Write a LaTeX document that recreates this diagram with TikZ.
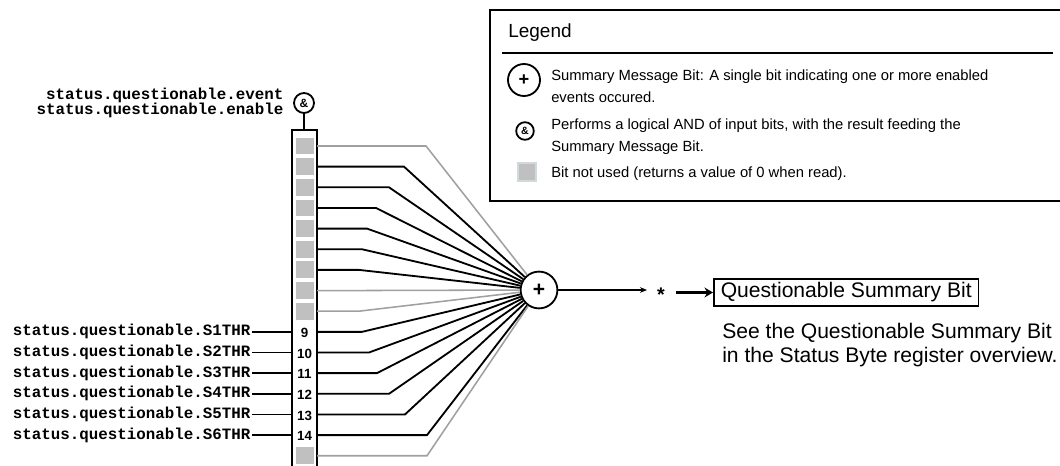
\documentclass[tikz,border=0pt]{standalone}
\usepackage{fontspec}
\setmainfont{Liberation Sans}
\setmonofont{Liberation Mono}
\usepackage{xcolor}
\usetikzlibrary{arrows.meta, positioning}

\definecolor{bitgray}{HTML}{C0C0C0}
\definecolor{wiregray}{HTML}{A0A0A0}
\definecolor{bitedge}{HTML}{D0DADC}

\begin{document}
\begin{tikzpicture}[
        x=0.025cm, y=-0.025cm,
        wire/.style={line width=1.3pt},
        graywire/.style={line width=1.1pt, draw=wiregray},
        cell/.style={fill=bitgray, minimum width=0.45cm, minimum height=0.42cm, inner sep=0},
        bitnum/.style={font=\bfseries\fontsize{9.5}{10}\selectfont, inner sep=0},
        reglabel/.style={font=\ttfamily\bfseries\fontsize{11.25}{10.6}\selectfont, inner sep=1pt},
        orgate/.style={circle, draw, line width=1.3pt, fill=white, inner sep=0, font=\bfseries\fontsize{15}{15}\selectfont},
        andgate/.style={circle, draw, line width=1.3pt, fill=white, inner sep=0, font=\bfseries\fontsize{8.5}{8.5}\selectfont},
        legtext/.style={font=\fontsize{10.5}{15.5}\selectfont, align=left, anchor=north west, inner sep=0}
    ]
    \useasboundingbox (0,0) rectangle (1060,466);
    \clip (0,0) rectangle (1060,466);

    % register
    \draw[line width=1.3pt] (292,130) rectangle (317,480);
    \foreach \k in {0,1,2,3,4,5,6,7,8,15}
        \node[cell] (c\k) at (304.5,146+20.65*\k) {};
    \foreach \k in {9,...,14}
        \node[bitnum] (c\k) at (304.5,147+20.65*\k) {\k};

    \node[andgate, minimum size=0.5cm] (amp) at (304,103) {\&};
    \node[reglabel, align=right, left=0.2cm of amp] (enlbl) {status.questionable.event\\status.questionable.enable};
    \coordinate (regtop) at (304,130);
    \draw[wire] (amp) -- (regtop);

    % summary bit
    \node[orgate, minimum size=0.92cm] (sum) at (539,290) {+};
    \foreach \k/\bx/\ws in {0/426/graywire, 1/404/wire, 2/389/wire, 3/376/wire,
            4/367/wire, 5/362/wire, 6/359/wire, 7/357/graywire, 8/359/graywire,
            9/362/wire, 10/369/wire, 11/377/wire, 12/389/wire, 13/405/wire,
            14/427/wire, 15/427/graywire} {
        \coordinate (w\k) at (317,146+20.65*\k);
        \coordinate (b\k) at (\bx,146+20.65*\k);
        \draw[\ws] (w\k) -- (b\k) -- (sum);
    }

    % inputs
    \foreach \k/\n in {9/1,10/2,11/3,12/4,13/5,14/6} {
        \node[reglabel, anchor=east] (lbl\k) at (252,146+20.65*\k) {status.questionable.S\n THR};
        \coordinate (in\k) at (292,146+20.65*\k);
        \draw[wire] (lbl\k.east) -- (in\k);
    }

    % output
    \coordinate (tip) at (647,290);
    \draw[line width=0.8pt, -{Stealth[length=5pt,width=4pt]}] (sum) -- (tip);
    \node[font=\bfseries\fontsize{14}{14}\selectfont, inner sep=0] (star) at (661,295) {*};
    \node[draw, line width=1.1pt, anchor=west, inner xsep=5pt, inner ysep=2.5pt, font=\fontsize{15}{17}\selectfont] (qsb) at (713,292.5) {Questionable Summary Bit};
    \coordinate (qsbin) at (676,292.5);
    \draw[line width=2pt, -{Stealth[length=6pt,width=7pt]}] (qsbin) -- (qsb.west);
    \node[font=\fontsize{15}{17}\selectfont, align=left, inner sep=0, below=0.42cm of qsb.south west, anchor=north west, xshift=0.225cm] (qsbnote) {See the Questionable Summary Bit\\in the Status Byte register overview.};

    % legend
    \draw[line width=1.3pt] (490,10) rectangle (1075,201);
    \coordinate (hl) at (502,53);
    \coordinate (hr) at (1053,53);
    \draw[line width=1.6pt] (hl) -- (hr);
    \node[anchor=west, inner sep=0, font=\fontsize{13.5}{14}\selectfont] (legtitle) at (508,33) {Legend};
    \node[orgate, minimum size=0.8cm, font=\bfseries\fontsize{13}{13}\selectfont] (lgsum) at (524,80) {+};
    \node[andgate, minimum size=0.44cm, font=\bfseries\fontsize{7.5}{7.5}\selectfont] (lgand) at (525,131) {\&};
    \node[cell, draw=bitedge, line width=1.2pt, minimum size=0.45cm] (lgbit) at (527,172) {};
    \node[legtext] (lgt1) at (551,70) {Summary Message Bit: A single bit indicating one or more enabled\\events occured.};
    \node[legtext] (lgt2) at (551,119) {Performs a logical AND of input bits, with the result feeding the\\Summary Message Bit.};
    \node[legtext] (lgt3) at (551,167) {Bit not used (returns a value of 0 when read).};
\end{tikzpicture}
\end{document}
